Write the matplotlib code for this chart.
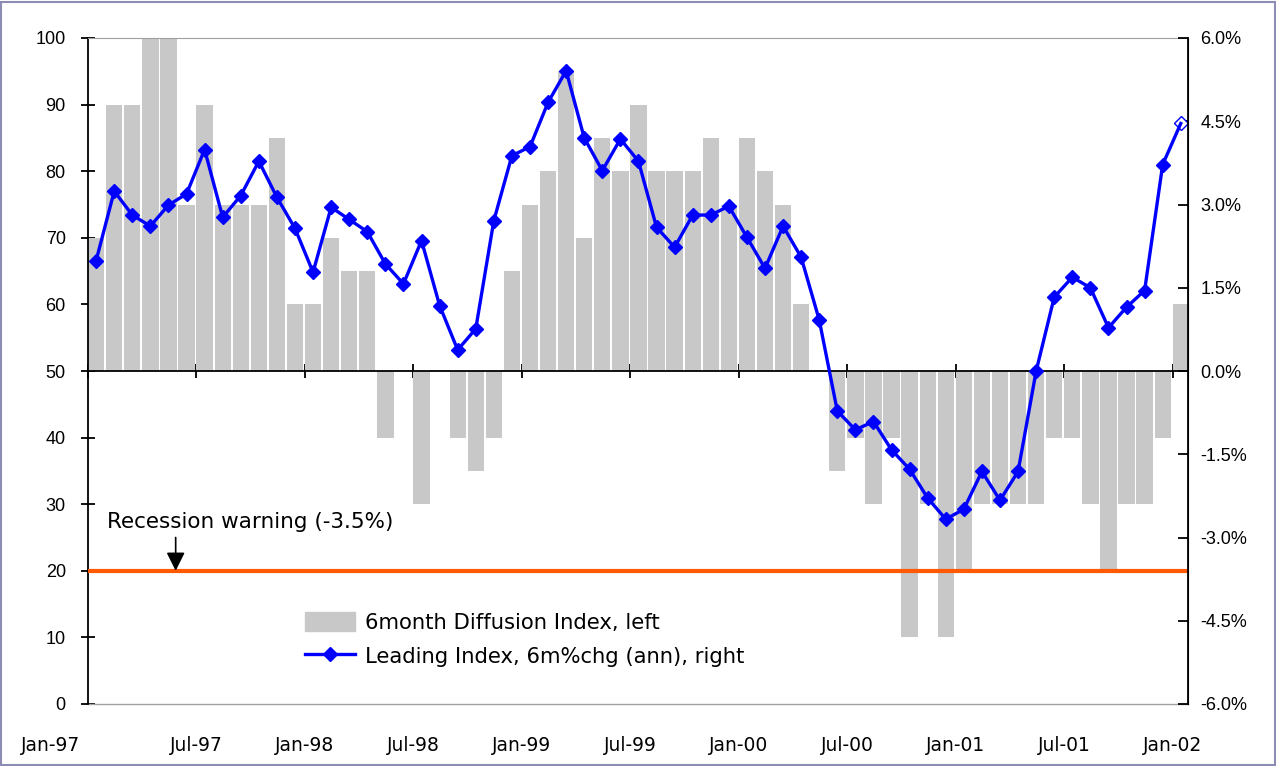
import matplotlib
matplotlib.use("Agg")
import matplotlib.pyplot as plt
from matplotlib.patches import Patch, Rectangle
from matplotlib.lines import Line2D
from matplotlib.transforms import blended_transform_factory

plt.rcParams['font.family'] = ['Liberation Sans', 'DejaVu Sans']
WIDE = ['DejaVu Sans']

# monthly data, Jan-97 .. Jan-02
diffusion = [70, 90, 90, 100, 100, 75, 90, 75, 75, 75,
             85, 60, 60, 70, 65, 65, 40, 50, 30, 50,
             40, 35, 40, 65, 75, 80, 95, 70, 85, 80,
             90, 80, 80, 80, 85, 75, 85, 80, 75, 60,
             50, 35, 40, 30, 40, 10, 30, 10, 20, 30,
             30, 30, 30, 40, 40, 30, 20, 30, 30, 40, 60]
leading = [1.99, 3.24, 2.81, 2.61, 2.99, 3.19, 3.99, 2.77, 3.16, 3.78,
           3.13, 2.57, 1.78, 2.95, 2.73, 2.51, 1.93, 1.57, 2.35, 1.18,
           0.38, 0.76, 2.71, 3.88, 4.04, 4.84, 5.41, 4.20, 3.61, 4.18,
           3.78, 2.59, 2.23, 2.81, 2.81, 2.97, 2.41, 1.85, 2.61, 2.05,
           0.92, -0.72, -1.06, -0.91, -1.42, -1.77, -2.29, -2.67, -2.49, -1.81,
           -2.33, -1.81, 0.0, 1.33, 1.69, 1.50, 0.78, 1.15, 1.45, 3.72, 4.46]
tick_labels = ["Jan-97", "Jul-97", "Jan-98", "Jul-98", "Jan-99", "Jul-99",
               "Jan-00", "Jul-00", "Jan-01", "Jul-01", "Jan-02"]
left_ticks = [0, 10, 20, 30, 40, 50, 60, 70, 80, 90, 100]
right_ticks = [-6.0, -4.5, -3.0, -1.5, 0.0, 1.5, 3.0, 4.5, 6.0]
baseline = 50
warning_level = 20

BAR_GREY = "#c8c8c8"
BLUE = "#0000ff"
ORANGE = "#ff5a00"

x = list(range(len(diffusion)))
tick_pos = [6 * k - 0.45 for k in range(len(tick_labels))]

fig = plt.figure(figsize=(12.76, 7.66), dpi=100)
ax = fig.add_axes([88 / 1276, 1 - 704 / 766, 1100 / 1276, 666 / 766])

# diffusion bars hang from the 50 line
ax.bar(x, [v - baseline for v in diffusion], bottom=baseline, width=0.9,
       color=BAR_GREY, zorder=2)
ax.axhline(warning_level, color=ORANGE, lw=3, zorder=4)

ax.set_xlim(-0.45, 60.4)
ax.set_ylim(0, 100)
ax.set_yticks(left_ticks)
ax.set_xticks(tick_pos)
ax.set_xticklabels([])
ax.spines['bottom'].set_position(('data', baseline))
ax.spines['bottom'].set_linewidth(1.3)
ax.spines['left'].set_linewidth(1.3)
ax.spines['top'].set_color("#a0a0a0")
ax.tick_params(axis='x', direction='inout', length=10, width=1.3)
ax.tick_params(axis='y', direction='inout', length=10, width=1.3,
               pad=11, labelsize=13)
ax.plot([0, 1], [0, 0], transform=ax.transAxes, color="#a0a0a0",
        lw=1, clip_on=False)

# x labels sit below the plot area
trans = blended_transform_factory(ax.transData, ax.transAxes)
for i, (p, lab) in enumerate(zip(tick_pos, tick_labels)):
    if i == 0:
        p = p - 2.05
    ax.text(p, -0.062, lab, transform=trans, ha='center', va='center',
            fontsize=13.5, family=WIDE)

ax2 = ax.twinx()
ax2.plot(x, leading, color=BLUE, lw=2.4, marker='D', ms=7,
         markevery=list(range(len(leading) - 1)), zorder=3)
ax2.plot(x[-1:], leading[-1:], linestyle='none', marker='D', ms=7,
         mfc='white', mec=BLUE, mew=1)
ax2.set_ylim(-6, 6)
ax2.set_yticks(right_ticks)
ax2.set_yticklabels([f"{t:.1f}%" for t in right_ticks])
ax2.spines['right'].set_linewidth(1.3)
ax2.spines['top'].set_visible(False)
ax2.spines['bottom'].set_visible(False)
ax2.spines['left'].set_visible(False)
ax2.tick_params(axis='y', direction='in', length=7, width=1.3,
                pad=9, labelsize=13)

ax2.annotate("", xy=(4.4, warning_level), xycoords=('data', ax.transData),
             xytext=(4.4, 25.0), textcoords=('data', ax.transData),
             arrowprops=dict(arrowstyle='-|>', color='black', lw=1.2,
                             mutation_scale=28, shrinkA=0, shrinkB=0))
ax.text(0.6, 27.4, "Recession warning (-3.5%)", fontsize=15.5,
        family=WIDE, ha='left', va='center', zorder=5)

handles = [Patch(color=BAR_GREY),
           Line2D([], [], color=BLUE, lw=2.4, marker='D', ms=7)]
labels = ["6month Diffusion Index, left",
          "Leading Index, 6m%chg (ann), right"]
ax2.legend(handles, labels, loc='upper left', bbox_to_anchor=(0.197, 0.138),
           frameon=False, prop={'family': WIDE, 'size': 15.2},
           handlelength=2.4, handleheight=1.0, borderpad=0, borderaxespad=0,
           labelspacing=0.62, handletextpad=0.45)

fig.patches.append(Rectangle((0.001, 0.001), 0.998, 0.997,
                             transform=fig.transFigure, fill=False,
                             edgecolor="#8c8cb4", lw=1.5))

fig.savefig("out.png", dpi=100)
